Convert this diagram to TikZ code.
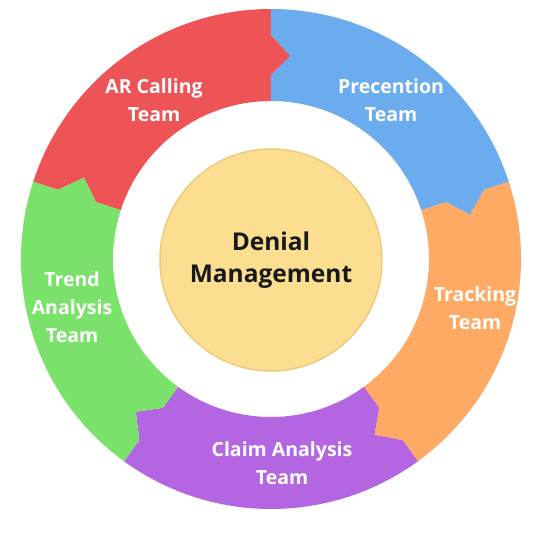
\documentclass[tikz,border=0pt]{standalone}
\usepackage{fontspec}
\setmainfont{Open Sans}
\definecolor{cRed}{HTML}{EE5355}
\definecolor{cBlue}{HTML}{6AACEE}
\definecolor{cOrange}{HTML}{FFAA64}
\definecolor{cPurple}{HTML}{B466E2}
\definecolor{cGreen}{HTML}{7AE26A}
\definecolor{cCore}{HTML}{FCDE91}
\definecolor{cCoreEdge}{HTML}{EDCA7C}
\newcommand{\ringseg}[3]{%
  \fill[#3] (#1:250) arc[start angle=#1,end angle=#2,radius=250]
    -- (#2:224) -- ({#2-5.5}:204) -- (#2:184) -- (#2:158)
    arc[start angle=#2,end angle=#1,radius=158]
    -- (#1:184) -- ({#1-5.5}:204) -- (#1:224) -- cycle;}
\begin{document}
\begin{tikzpicture}[x=1pt,y=1pt,
  lbl/.style={text=white,font=\fontsize{19.5}{28}\selectfont\bfseries,align=center,inner sep=0pt}]
\useasboundingbox[fill=white] (-271,-291) rectangle (279,259);
\ringseg{162}{90}{cRed}
\ringseg{90}{18}{cBlue}
\ringseg{18}{-54}{cOrange}
\ringseg{-54}{-126}{cPurple}
\ringseg{234}{162}{cGreen}
\node[circle,minimum size=222pt,fill=cCore,draw=cCoreEdge,line width=1.5pt,
  font=\fontsize{24.5}{32}\selectfont\bfseries,align=center,text=black!90] (core) at (0,-1) {Denial\\Management};
\node[lbl] (ar) at (-117,159) {AR Calling\\Team};
\node[lbl] (prev) at (120,159) {Precention\\Team};
\node[lbl] (track) at (204,-49) {Tracking\\Team};
\node[lbl] (claim) at (11,-204) {Claim Analysis\\Team};
\node[lbl] (trend) at (-199,-48) {Trend\\Analysis\\Team};
\end{tikzpicture}
\end{document}
